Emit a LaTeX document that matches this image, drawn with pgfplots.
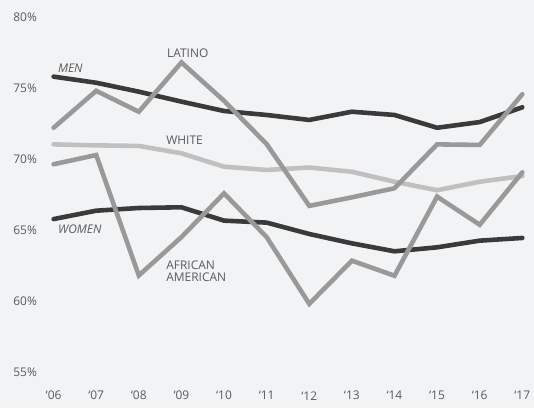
\documentclass[border=0pt]{standalone}
\usepackage{pgfplots}
\pgfplotsset{compat=1.18}
\usepackage{fontspec}
\setmainfont{Open Sans}

\definecolor{bg}{HTML}{F2F3F5}
\definecolor{txt}{HTML}{5A5A5A}
\definecolor{dark}{HTML}{3A3A3A}
\definecolor{mid}{HTML}{999999}
\definecolor{light}{HTML}{C0C0C0}

\begin{document}
\begin{tikzpicture}[x=1bp,y=1bp]
\fill[bg] (0,0) rectangle (534,408);
\begin{axis}[
    at={(53.6bp,36bp)}, anchor=origin,
    scale only axis,
    width=468.7bp, height=355bp,
    xmin=2006, xmax=2017,
    ymin=55, ymax=80,
    clip=false,
    axis line style={draw=none},
    tick style={draw=none},
    xtick={2006,...,2017},
    xticklabels={‘06,‘07,‘08,‘09,‘10,‘11,‘12,‘13,‘14,‘15,‘16,‘17},
    ytick={55,60,...,80},
    yticklabel={\pgfmathprintnumber{\tick}\%},
    /pgf/number format/assume math mode=true,
    ticklabel style={font=\fontsize{12}{14}\selectfont, text=txt, inner sep=0pt},
    yticklabel style={anchor=east, xshift=-16.5bp},
    xticklabel style={anchor=center, yshift=-23.7bp},
    every axis plot/.append style={line width=4.6pt, no markers},
]

% men and women
\addplot[dark, line cap=round, line join=round] coordinates {
 (2006,75.8) (2007,75.37) (2008,74.74) (2009,74.04) (2010,73.38) (2011,73.1)
 (2012,72.75) (2013,73.33) (2014,73.1) (2015,72.2) (2016,72.6) (2017,73.64)};
\addplot[dark, line cap=round, line join=round] coordinates {
 (2006,65.77) (2007,66.36) (2008,66.55) (2009,66.6) (2010,65.66) (2011,65.52)
 (2012,64.72) (2013,64.06) (2014,63.5) (2015,63.78) (2016,64.25) (2017,64.44)};

% white
\addplot[light, line cap=round] coordinates {
 (2006,71.03) (2007,70.96) (2008,70.92) (2009,70.4) (2010,69.46) (2011,69.23)
 (2012,69.4) (2013,69.1) (2014,68.4) (2015,67.8) (2016,68.4) (2017,68.8)};

% latino
\addplot[mid, line cap=round] coordinates {
 (2006,72.2) (2007,74.8) (2008,73.33) (2009,76.8) (2010,74.1) (2011,71.05)
 (2012,66.7) (2013,67.3) (2014,67.94) (2015,71.03) (2016,70.99) (2017,74.56)};

% african american
\addplot[mid, line cap=round] coordinates {
 (2006,69.63) (2007,70.28) (2008,61.8) (2009,64.5) (2010,67.58) (2011,64.5)
 (2012,59.8) (2013,62.84) (2014,61.78) (2015,67.35) (2016,65.37) (2017,69.06)};

\begin{scope}[every node/.style={font=\fontsize{12}{12}\selectfont, text=txt, inner sep=0pt, anchor=west}]
\node at (axis cs:2006.10,76.41) {\itshape MEN};
\node at (axis cs:2008.66,77.46) {LATINO};
\node at (axis cs:2008.64,71.34) {WHITE};
\node at (axis cs:2006.10,65.07) {\itshape WOMEN};
\node[align=left] at (axis cs:2008.64,62.11) {AFRICAN\\AMERICAN};
\end{scope}
\end{axis}
\end{tikzpicture}
\end{document}
